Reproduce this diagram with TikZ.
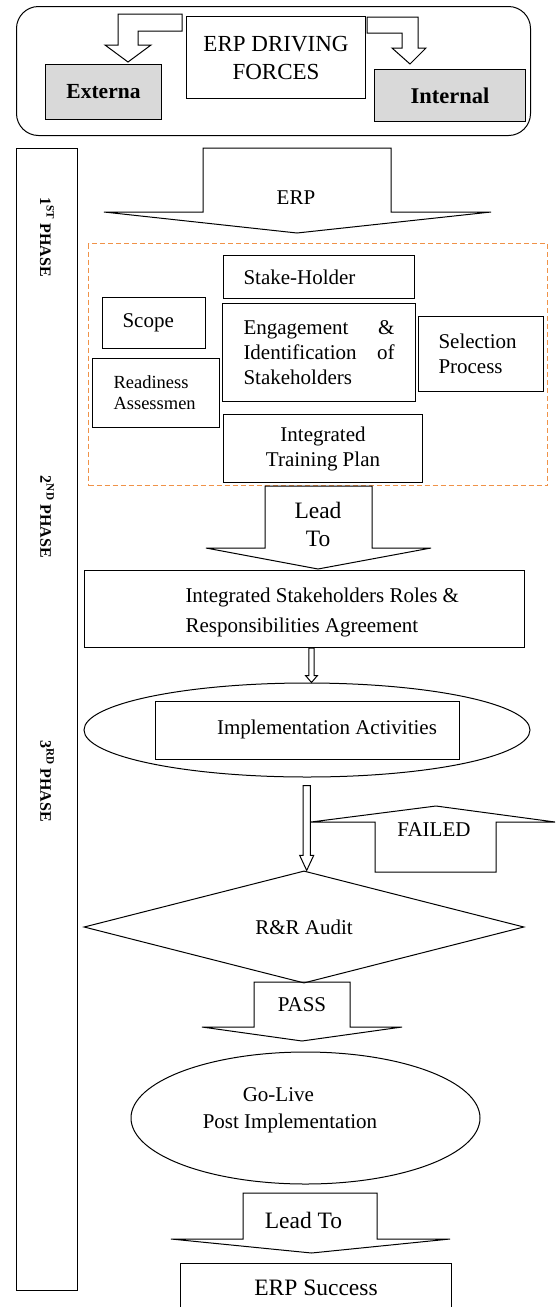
\documentclass[tikz,border=0pt]{standalone}
\usepackage{fontspec}
\setmainfont{Liberation Serif}
\usepackage{tikz}
\usetikzlibrary{shapes.geometric,calc}

\definecolor{dashorange}{RGB}{240,146,72}

% hollow thin arrow between two nodes
\newcommand{\hollowdown}[5]{%
  \draw let \p1=(#1), \p2=(#2) in (\x2-#3,\y1) -- (\x2+#3,\y1) -- (\x2+#3,\y2+#5)
    -- (\x2+#4,\y2+#5) -- (\x2,\y2) -- (\x2-#4,\y2+#5) -- (\x2-#3,\y2+#5) -- cycle;}

\begin{document}
\begin{tikzpicture}[x=1pt,y=-1pt,line width=1pt,
  box/.style={draw,anchor=north west,inner sep=0pt,align=center,font=\fontsize{21}{25}\selectfont},
  pad/.style={inner xsep=#1,align=left},
  txt/.style={inner sep=0pt,font=\fontsize{21}{25}\selectfont},
  phase/.style={rotate=-90,inner sep=0pt,font=\fontsize{16}{18}\selectfont\bfseries}]
  \useasboundingbox (0,0) rectangle (556,1307);
  % driving forces
  \node[box,rounded corners=22pt,minimum width=514pt,minimum height=129pt] (forces) at (16,6) {};
  \node[box,minimum width=179pt,minimum height=82pt,font=\fontsize{23}{28}\selectfont] (driving) at (186,16) {ERP DRIVING\\FORCES};
  \node[box,fill=black!15,minimum width=116pt,minimum height=55pt,font=\fontsize{21.5}{25}\selectfont\bfseries] (externa) at (45,64) {Externa};
  \node[box,fill=black!15,minimum width=151pt,minimum height=52pt,font=\fontsize{22.5}{25}\selectfont\bfseries] (internal) at (374,69) {Internal};
  \draw (182,14) -- (118,14) -- (118,45) -- (105,45) -- (128,62) -- (151,45) -- (138,45) -- (138,31) -- (182,31) -- cycle;
  \draw (367,17) -- (418,17) -- (418,48) -- (426,48) -- (410,64) -- (392,48) -- (402,48) -- (402,33) -- (367,33) -- cycle;
  % phases
  \node[box,minimum width=61pt,minimum height=1142pt] (phases) at (16,148) {};
  \node[phase] (ph1) at (47,237) {1\textsuperscript{ST} PHASE};
  \node[phase] (ph2) at (47,517) {2\textsuperscript{ND} PHASE};
  \node[phase] (ph3) at (47,781) {3\textsuperscript{RD} PHASE};
  % first phase
  \draw (203,148) -- (391,148) -- (391,212) -- (491,212) -- (297,233) -- (104,212) -- (203,212) -- cycle;
  \node[txt] (erp) at (296,198) {ERP};
  \node[box,dashorange,line width=1.2pt,dash pattern=on 5pt off 3pt,minimum width=459pt,minimum height=242pt] (plan) at (88,243) {};
  \node[box,pad=20pt,text width=151pt,minimum height=43pt] (stake) at (223,255) {Stake-Holder};
  \node[box,pad=20pt,text width=63pt,minimum height=51pt] (scope) at (102,297) {Scope};
  \node[box,pad=21pt,text width=151pt,minimum height=98pt] (engage) at (222,303) {Engagement \hfill \&\\Identification \hfill of\\Stakeholders};
  \node[box,pad=20pt,text width=85pt,minimum height=75pt] (select) at (418,316) {Selection\\Process};
  \node[box,pad=21pt,text width=85pt,minimum height=69pt,font=\fontsize{18.5}{21}\selectfont] (ready) at (92,358) {Readiness\\Assessmen};
  \node[box,minimum width=199pt,minimum height=68pt] (training) at (223,414) {Integrated\\Training Plan};
  % second phase
  \draw (265,486) -- (372,486) -- (372,548) -- (431,548) -- (318,569) -- (206,548) -- (265,548) -- cycle;
  \node[txt,align=center,font=\fontsize{23.5}{28}\selectfont] (lead1) at (318,524) {Lead\\To};
  \node[box,minimum width=440pt,minimum height=77pt] (roles) at (84,570) {};
  \node[txt,anchor=west,align=left,font=\fontsize{21}{30}\selectfont] (rolestxt) at (185,612) {Integrated Stakeholders Roles \&\\Responsibilities Agreement};
  % third phase
  \node[draw,ellipse,minimum width=446pt,minimum height=94pt,inner sep=0pt] (implring) at (307,730) {};
  \node[box,minimum width=304pt,minimum height=58pt] (impl) at (155,701) {};
  \node[txt] (impltxt) at (327,729) {Implementation Activities};
  \hollowdown{roles.south}{[xshift=4.5pt]implring.north}{2.7pt}{6pt}{7pt}
  \node[draw,diamond,txt,minimum width=440pt,minimum height=100pt] (audit) at (304,927) {R\&R Audit};
  \hollowdown{[yshift=-8pt]implring.south}{[xshift=2.7pt]audit.north}{3.7pt}{7pt}{15pt}
  \draw (375,872) -- (375,822) -- (311,822) -- (436,806) -- (555,822) -- (496,822) -- (496,872) -- cycle;
  \node[txt] (failed) at (434,830) {FAILED};
  \draw (254,982) -- (350,982) -- (350,1027) -- (402,1027) -- (302,1041) -- (202,1027) -- (254,1027) -- cycle;
  \node[txt] (pass) at (302,1005) {PASS};
  \node[draw,ellipse,minimum width=349pt,minimum height=132pt,inner sep=0pt] (golive) at (305.5,1118) {};
  \node[txt,align=left,font=\fontsize{21}{27}\selectfont] (golivetxt) at (290,1110.5) {\hspace*{40pt}Go-Live\\Post Implementation};
  \draw (243,1193) -- (377,1193) -- (377,1239) -- (450,1239) -- (311.5,1253) -- (171,1239) -- (243,1239) -- cycle;
  \node[txt,font=\fontsize{23.5}{28}\selectfont] (lead2) at (303.5,1220) {Lead To};
  \node[box,minimum width=271pt,minimum height=48pt,font=\fontsize{23.5}{28}\selectfont] (success) at (180,1263) {ERP Success};
\end{tikzpicture}
\end{document}
